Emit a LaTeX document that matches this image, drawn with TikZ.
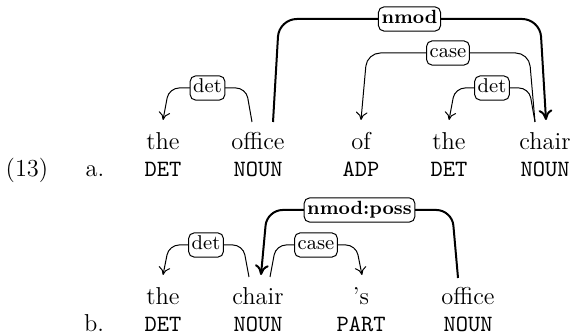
\documentclass[tikz,border=0pt]{standalone}
\usetikzlibrary{calc,arrows.meta}
\begin{document}
\begin{tikzpicture}[x=0.45pt,y=-0.45pt,
  word/.style={anchor=base,inner sep=0pt,font=\fontsize{11}{13}\selectfont},
  tag/.style={anchor=base,inner sep=0pt,font=\fontsize{10.5}{12}\selectfont\ttfamily},
  lab/.style={draw,fill=white,rounded corners=2.5pt,line width=0.45pt,inner sep=1.4pt,
    text height=6.3pt,text depth=1.8pt,font=\fontsize{9}{10}\selectfont},
  blab/.style={lab,font=\fontsize{8.6}{10}\selectfont\bfseries},
  thindep/.style={line width=0.45pt,-{Computer Modern Rightarrow[length=3.6pt,width=5.2pt]}},
  thickdep/.style={line width=0.9pt,-{Computer Modern Rightarrow[length=4.6pt,width=6.2pt]}}]
\useasboundingbox (0,0) rectangle (574,336);
% ---------- (13a)
\node[word] (num) at (27,177) {(13)};
\node[word] (alab) at (95,177) {a.};
\node[word] (athe)    at (163,150) {the};
\node[word] (aoffice) at (258,150) {office};
\node[word] (aof)     at (361,150) {of};
\node[word] (athetwo) at (449,150) {the};
\node[word] (achair)  at (545,150) {chair};
\node[tag] (tathe)    at (163,176.5) {DET};
\node[tag] (taoffice) at (258,176.5) {NOUN};
\node[tag] (taof)     at (361,176.5) {ADP};
\node[tag] (tathetwo) at (449,176.5) {DET};
\node[tag] (tachair)  at (545,176.5) {NOUN};
% edge endpoints
\coordinate (e1s) at ($(aoffice.base)+(-6,-28)$);
\coordinate (e1e) at ($(athe.base)+(0,-30)$);
\coordinate (e2s) at ($(aoffice.base)+(15,-28)$);
\coordinate (e2e) at ($(achair.base)+(1,-30)$);
\coordinate (e3s) at ($(achair.base)+(-10,-28)$);
\coordinate (e3e) at ($(aof.base)+(0,-30)$);
\coordinate (e4s) at ($(achair.base)+(-10,-28)$);
\coordinate (e4e) at ($(athetwo.base)+(0,-30)$);
\draw[thindep,rounded corners=4.5pt] (e1s) -- ($(e1s)+(-6,-34)$) -- ($(e1e)+(6,-32)$) -- (e1e);
\draw[thickdep,rounded corners=8pt] (e2s) -- ($(e2s)+(6,-103)$) -- ($(e2e)+(-6,-101)$) -- (e2e);
\draw[thindep,rounded corners=6pt] (e3s) -- ($(e3s)+(-6,-69)$) -- ($(e3e)+(6,-67)$) -- (e3e);
\draw[thindep,rounded corners=4.5pt] (e4s) -- ($(e4s)+(-6,-34)$) -- ($(e4e)+(6,-32)$) -- (e4e);
\node[lab]  (l1) at ($(e1s)!0.5!(e1e)+(0,-33)$) {det};
\node[blab] (l2) at ($(e2s)!0.5!(e2e)+(0,-102)$) {nmod};
\node[lab]  (l3) at ($(e3s)!0.5!(e3e)+(0,-68)$) {case};
\node[lab]  (l4) at ($(e4s)!0.5!(e4e)+(0,-33)$) {det};
% ---------- (13b)
\node[word] (blab) at (94,331.5) {b.};
\node[word] (bthe)    at (163,305) {the};
\node[word] (bchair)  at (258,305) {chair};
\node[word] (bs)      at (361,305) {’s};
\node[word] (boffice) at (468,305) {office};
\node[tag] (tbthe)    at (163,331.5) {DET};
\node[tag] (tbchair)  at (258,331.5) {NOUN};
\node[tag] (tbs)      at (361,331.5) {PART};
\node[tag] (tboffice) at (468,331.5) {NOUN};
\coordinate (f1s) at ($(bchair.base)+(-9,-28)$);
\coordinate (f1e) at ($(bthe.base)+(0,-30)$);
\coordinate (f2s) at ($(boffice.base)+(-10,-27)$);
\coordinate (f2e) at ($(bchair.base)+(3,-30)$);
\coordinate (f3s) at ($(bchair.base)+(12,-28)$);
\coordinate (f3e) at ($(bs.base)+(1,-30)$);
\draw[thindep,rounded corners=4.5pt] (f1s) -- ($(f1s)+(-6,-32)$) -- ($(f1e)+(6,-30)$) -- (f1e);
\draw[thickdep,rounded corners=7pt] (f2s) -- ($(f2s)+(-6,-68)$) -- ($(f2e)+(6,-65)$) -- (f2e);
\draw[thindep,rounded corners=4.5pt] (f3s) -- ($(f3s)+(6,-32)$) -- ($(f3e)+(-6,-30)$) -- (f3e);
\node[lab]  (m1) at ($(f1s)!0.5!(f1e)+(0,-31)$) {det};
\node[blab] (m2) at ($(f2s)!0.5!(f2e)+(0,-66.5)$) {nmod:poss};
\node[lab]  (m3) at ($(f3s)!0.5!(f3e)+(0,-31)$) {case};
\end{tikzpicture}
\end{document}
